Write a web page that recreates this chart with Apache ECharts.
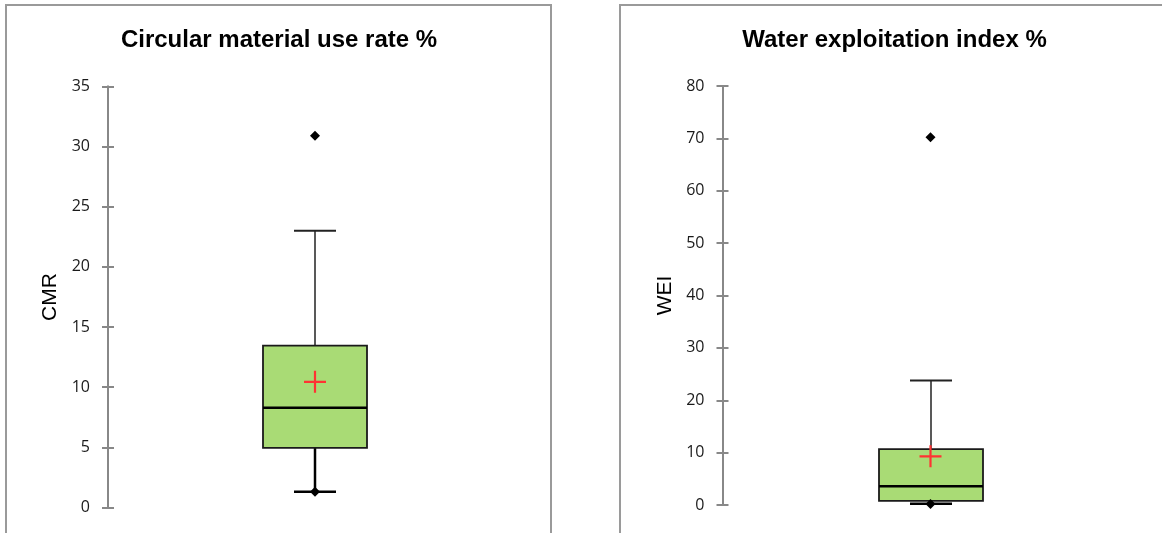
<!DOCTYPE html>
<html><head><meta charset="utf-8">
<script src="https://cdn.jsdelivr.net/npm/echarts@6/dist/echarts.min.js"></script>
<style>html,body{margin:0;padding:0;background:#fff}#c{width:1162px;height:533px}</style>
</head><body><div id="c"></div>
<script>
// ---- data ----
const categories = ['CMR', 'WEI'];
const chartTitles = ['Circular material use rate %', 'Water exploitation index %'];
const axisNames = ['CMR', 'WEI'];
// [lower whisker, Q1, median, Q3, upper whisker]
const cmrBox = [1.3, 4.95, 8.3, 13.45, 23.0];
const weiBox = [0.25, 0.8, 3.6, 10.65, 23.75];
const means = [10.45, 9.3];
const outliers = [30.9, 70.2];
const minPoints = [1.3, 0.2];
const yMaxes = [35, 80];
const yIntervals = [5, 10];

const boxes = [cmrBox, weiBox];
const AXIS_COLOR = '#888888';
const LABEL_FONT = 'Open Sans';

function renderBox(params, api) {
  const x = api.value(0);
  const pMin = api.coord([x, api.value(1)]);
  const pQ1 = api.coord([x, api.value(2)]);
  const pMed = api.coord([x, api.value(3)]);
  const pQ3 = api.coord([x, api.value(4)]);
  const pMax = api.coord([x, api.value(5)]);
  const cx = Math.round(pMin[0]);
  const bw = 104, cw = 42;
  return {type: 'group', children: [
    {type: 'line', shape: {x1: cx, y1: pQ3[1], x2: cx, y2: pMax[1]}, style: {stroke: '#222', lineWidth: 1.5}},
    {type: 'line', shape: {x1: cx - cw / 2, y1: pMax[1], x2: cx + cw / 2, y2: pMax[1]}, style: {stroke: '#222', lineWidth: 2}},
    {type: 'line', shape: {x1: cx, y1: pQ1[1], x2: cx, y2: pMin[1]}, style: {stroke: '#000', lineWidth: 2.5}},
    {type: 'line', shape: {x1: cx - cw / 2, y1: pMin[1], x2: cx + cw / 2, y2: pMin[1]}, style: {stroke: '#000', lineWidth: 2.5}},
    {type: 'rect', shape: {x: cx - bw / 2, y: pQ3[1], width: bw, height: pQ1[1] - pQ3[1]}, style: {fill: '#a9db75', stroke: '#1a1a1a', lineWidth: 1.8}},
    {type: 'line', shape: {x1: cx - bw / 2, y1: pMed[1], x2: cx + bw / 2, y2: pMed[1]}, style: {stroke: '#000', lineWidth: 2.5}}
  ]};
}

const grids = [
  {left: 108, top: 86.5, width: 414, height: 421},
  {left: 722.5, top: 86, width: 416, height: 419}
];

const xAxes = [], yAxes = [], series = [];
categories.forEach((cat, i) => {
  xAxes.push({type: 'category', gridIndex: i, data: [cat], show: false, boundaryGap: true});
  const base = {
    type: 'value', gridIndex: i, min: 0, max: yMaxes[i], interval: yIntervals[i],
    position: 'left', offset: 0,
    splitLine: {show: false},
    axisLine: {show: true, lineStyle: {color: AXIS_COLOR, width: 2}},
  };
  yAxes.push(Object.assign({}, base, {
    axisTick: {show: true, inside: false, length: 6, lineStyle: {color: AXIS_COLOR, width: 2}},
    axisLabel: {show: true, margin: 18, color: '#1a1a1a', fontFamily: LABEL_FONT, fontSize: 16},
    name: axisNames[i], nameLocation: 'middle', nameGap: 47,
    nameTextStyle: {fontFamily: 'Liberation Sans', fontSize: 21, color: '#000'}
  }));
  yAxes.push(Object.assign({}, base, {
    axisTick: {show: true, inside: true, length: 6, lineStyle: {color: AXIS_COLOR, width: 2}},
    axisLabel: {show: false}
  }));
  const yIdx = i * 2;
  series.push({
    type: 'custom', xAxisIndex: i, yAxisIndex: yIdx, renderItem: renderBox,
    encode: {x: 0, y: [1, 2, 3, 4, 5]},
    data: [[0].concat(boxes[i])], z: 2, silent: true
  });
  series.push({
    type: 'scatter', xAxisIndex: i, yAxisIndex: yIdx, symbol: 'diamond', symbolSize: 10,
    itemStyle: {color: '#000', opacity: 1}, data: [[0, outliers[i]], [0, minPoints[i]]], z: 4, silent: true
  });
  series.push({
    type: 'scatter', xAxisIndex: i, yAxisIndex: yIdx,
    symbol: 'path://M9,0 H11 V9 H20 V11 H11 V20 H9 V11 H0 V9 H9 Z', symbolSize: 22,
    itemStyle: {color: '#ff3333', opacity: 1}, data: [[0, means[i]]], z: 5, silent: true
  });
});

const chart = echarts.init(document.getElementById('c'));
chart.setOption({
  backgroundColor: '#fff',
  animation: false,
  grid: grids,
  xAxis: xAxes,
  yAxis: yAxes,
  series: series,
  graphic: [
    {type: 'rect', shape: {x: 6, y: 5, width: 545, height: 600}, style: {fill: null, stroke: '#9a9a9a', lineWidth: 2}, z: -1, silent: true},
    {type: 'rect', shape: {x: 620, y: 5, width: 700, height: 600}, style: {fill: null, stroke: '#9a9a9a', lineWidth: 2}, z: -1, silent: true},
    {type: 'text', x: 279, y: 40, style: {text: chartTitles[0], font: 'bold 24px "Liberation Sans"', fill: '#000', textAlign: 'center', textVerticalAlign: 'middle'}, silent: true},
    {type: 'text', x: 894.5, y: 40, style: {text: chartTitles[1], font: 'bold 24px "Liberation Sans"', fill: '#000', textAlign: 'center', textVerticalAlign: 'middle'}, silent: true}
  ]
});
</script></body></html>
